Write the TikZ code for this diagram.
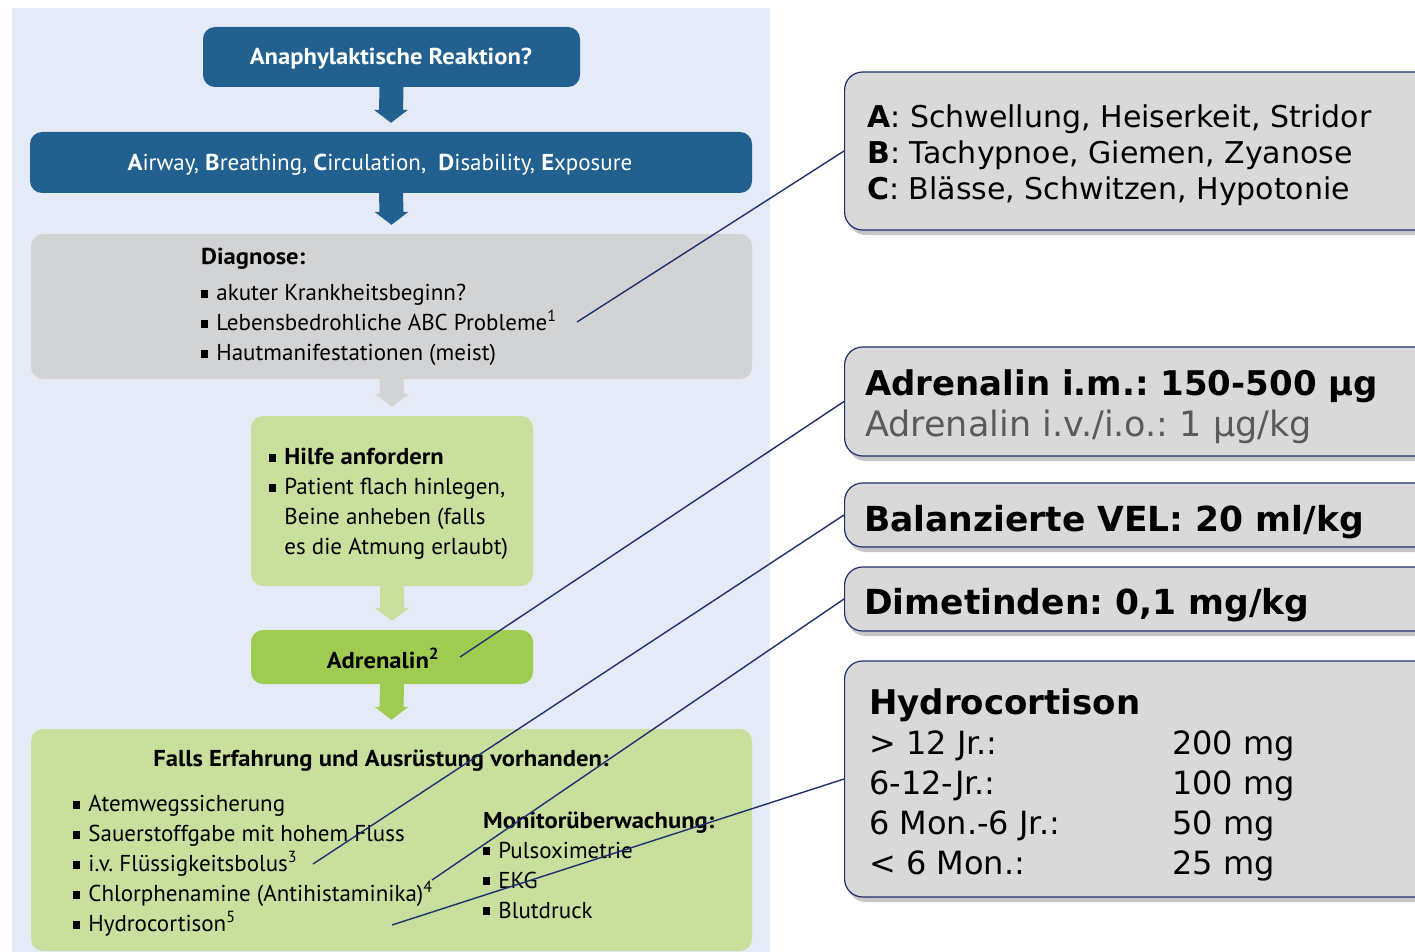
\documentclass[tikz,border=0pt]{standalone}
\usepackage{fontspec}
\newfontfamily\flowfont{PT Sans}[BoldFeatures={FakeStretch=1.07}]
\newfontfamily\notefont{DejaVu Sans}
\usetikzlibrary{calc,shadows}
\frenchspacing

\definecolor{pagebg}{HTML}{E4EAF6}
\definecolor{stepblue}{HTML}{22608F}
\definecolor{diaggrey}{HTML}{D2D3D5}
\definecolor{palegreen}{HTML}{C8DF9E}
\definecolor{leafgreen}{HTML}{A0CB51}
\definecolor{notegrey}{HTML}{D9D9D9}
\definecolor{navy}{HTML}{1F2F6F}
\definecolor{dosegrey}{HTML}{5A5A5A}

\newcommand{\sqb}{\rule[0.12em]{0.28em}{0.36em}\hspace{0.38em}}
% block arrow from one box down to the next
\newcommand{\flowarrow}[3]{%
  \fill[#3] ($(#1.south)+(-12,0)$) -- ($(#2.north)+(-12,-22)$) -- ($(#2.north)+(-17,-22)$)
    -- ($(#2.north)+(0,-9)$) -- ($(#2.north)+(17,-22)$) -- ($(#2.north)+(12,-22)$)
    -- ($(#1.south)+(12,0)$) -- cycle;}

\tikzset{
  flowbox/.style={rounded corners=12, inner sep=0},
  flowtext/.style={inner sep=0, align=left, font=\flowfont\fontsize{23}{30}\selectfont},
  flowhead/.style={flowtext, font=\flowfont\bfseries\fontsize{23}{30}\selectfont},
  notebox/.style={anchor=west, rounded corners=18, draw=navy, line width=1.2, fill=notegrey,
    drop shadow={shadow xshift=3pt, shadow yshift=-5pt, opacity=0.45},
    minimum width=640, inner sep=0},
  notetext/.style={anchor=west, inner sep=0, align=left},
  link/.style={draw=navy, line width=1.4}
}

\begin{document}
\begin{tikzpicture}[x=1pt,y=-1pt]
\useasboundingbox (0,0) rectangle (1415,952);
\fill[pagebg] (12,8) rectangle (770,952);

% flow chart
\node[flowbox, fill=stepblue, minimum width=377, minimum height=60] (ana) at (391.5,57) {};
\node[flowbox, fill=stepblue, minimum width=722, minimum height=61] (abcde) at (391,162.5) {};
\node[flowbox, fill=diaggrey, minimum width=721, minimum height=145] (diag) at (391.5,306.5) {};
\node[flowbox, fill=palegreen, minimum width=282, minimum height=170] (hilfe) at (392,501) {};
\node[flowbox, fill=leafgreen, minimum width=282, minimum height=54] (adr) at (392,657) {};
\node[flowbox, fill=palegreen, minimum width=721, minimum height=222] (falls) at (391.5,840) {};

\flowarrow{ana}{abcde}{stepblue}
\flowarrow{abcde}{diag}{stepblue}
\flowarrow{diag}{hilfe}{diaggrey}
\flowarrow{hilfe}{adr}{palegreen}
\flowarrow{adr}{falls}{leafgreen}

\node[flowhead, text=white] (anatext) at (391,59) {Anaphylaktische Reaktion?};
\node[flowtext, text=white] (abcdetext) at (380,165)
  {\textbf{A}irway, \textbf{B}reathing, \textbf{C}irculation, \ \textbf{D}isability, \textbf{E}xposure};
\node[flowtext, anchor=west] (diagtext) at (201,307) {\textbf{Diagnose:}\\[6pt]
  \sqb akuter Krankheitsbeginn?\\
  \sqb Lebensbedrohliche ABC Probleme\textsuperscript{1}\\
  \sqb Hautmanifestationen (meist)};
\node[flowtext, anchor=west] (hilfetext) at (269,504) {\sqb\textbf{Hilfe anfordern}\\
  \sqb Patient flach hinlegen,\\
  \phantom{\sqb}Beine anheben (falls\\
  \phantom{\sqb}es die Atmung erlaubt)};
\node[flowhead] (adrtext) at (383,658) {Adrenalin\textsuperscript{2}};
\node[flowhead] (fallshead) at (381,761) {Falls Erfahrung und Ausrüstung vorhanden:};
\node[flowtext, anchor=west] (measures) at (73,866) {\sqb Atemwegssicherung\\
  \sqb Sauerstoffgabe mit hohem Fluss\\
  \sqb i.v. Flüssigkeitsbolus\textsuperscript{3}\\
  \sqb Chlorphenamine (Antihistaminika)\textsuperscript{4}\\
  \sqb Hydrocortison\textsuperscript{5}};
\node[flowtext, anchor=west] (monitor) at (483,865) {\textbf{Monitorüberwachung:}\\
  \sqb Pulsoximetrie\\
  \sqb EKG\\
  \sqb Blutdruck};

% notes on the right
\node[notebox, minimum height=158] (abc) at (844,151) {};
\node[notebox, minimum height=109] (adrdose) at (844,401.5) {};
\node[notebox, minimum height=64] (vel) at (844,515) {};
\node[notebox, minimum height=64] (dimet) at (844,599) {};
\node[notebox, minimum height=236] (hydro) at (844,779) {};

\node[notetext, font=\notefont\fontsize{30}{36}\selectfont] (abctext) at ($(abc.west)+(23,4.5)$)
  {\textbf{A}: Schwellung, Heiserkeit, Stridor\\ \textbf{B}: Tachypnoe, Giemen, Zyanose\\ \textbf{C}: Blässe, Schwitzen, Hypotonie};
\node[notetext, font=\notefont\fontsize{34}{41}\selectfont] (adrtxt) at ($(adrdose.west)+(21,5)$)
  {\textbf{Adrenalin i.m.: 150-500 µg}\\ {\fontsize{35}{41}\selectfont\color{dosegrey}Adrenalin i.v./i.o.: 1 µg/kg}};
\node[notetext, font=\notefont\bfseries\fontsize{34.5}{41}\selectfont] (veltext) at ($(vel.west)+(20,7)$) {Balanzierte VEL: 20 ml/kg};
\node[notetext, font=\notefont\bfseries\fontsize{34.5}{41}\selectfont] (dimtext) at ($(dimet.west)+(20,6)$) {Dimetinden: 0,1 mg/kg};
\node[notetext, font=\notefont\fontsize{32}{40}\selectfont] (hydrotext) at ($(hydro.west)+(25,6)$)
  {{\bfseries\fontsize{34}{40}\selectfont Hydrocortison}\\
   \makebox[303pt][l]{> 12 Jr.:}200 mg\\
   \makebox[303pt][l]{6-12-Jr.:}100 mg\\
   \makebox[303pt][l]{6 Mon.-6 Jr.:}50 mg\\
   \makebox[303pt][l]{< 6 Mon.:}25 mg};

% connectors
\coordinate (probl) at (577,322);
\coordinate (adrsup) at (460,657);
\coordinate (bolus) at (313,864);
\coordinate (antihist) at (432,880);
\coordinate (cortison) at (392,925);
\draw[link] (probl) -- (abc.west);
\draw[link] (adrsup) -- (adrdose.west);
\draw[link] (bolus) -- (vel.west);
\draw[link] (antihist) -- (dimet.west);
\draw[link] (cortison) -- (hydro.west);
\end{tikzpicture}
\end{document}
